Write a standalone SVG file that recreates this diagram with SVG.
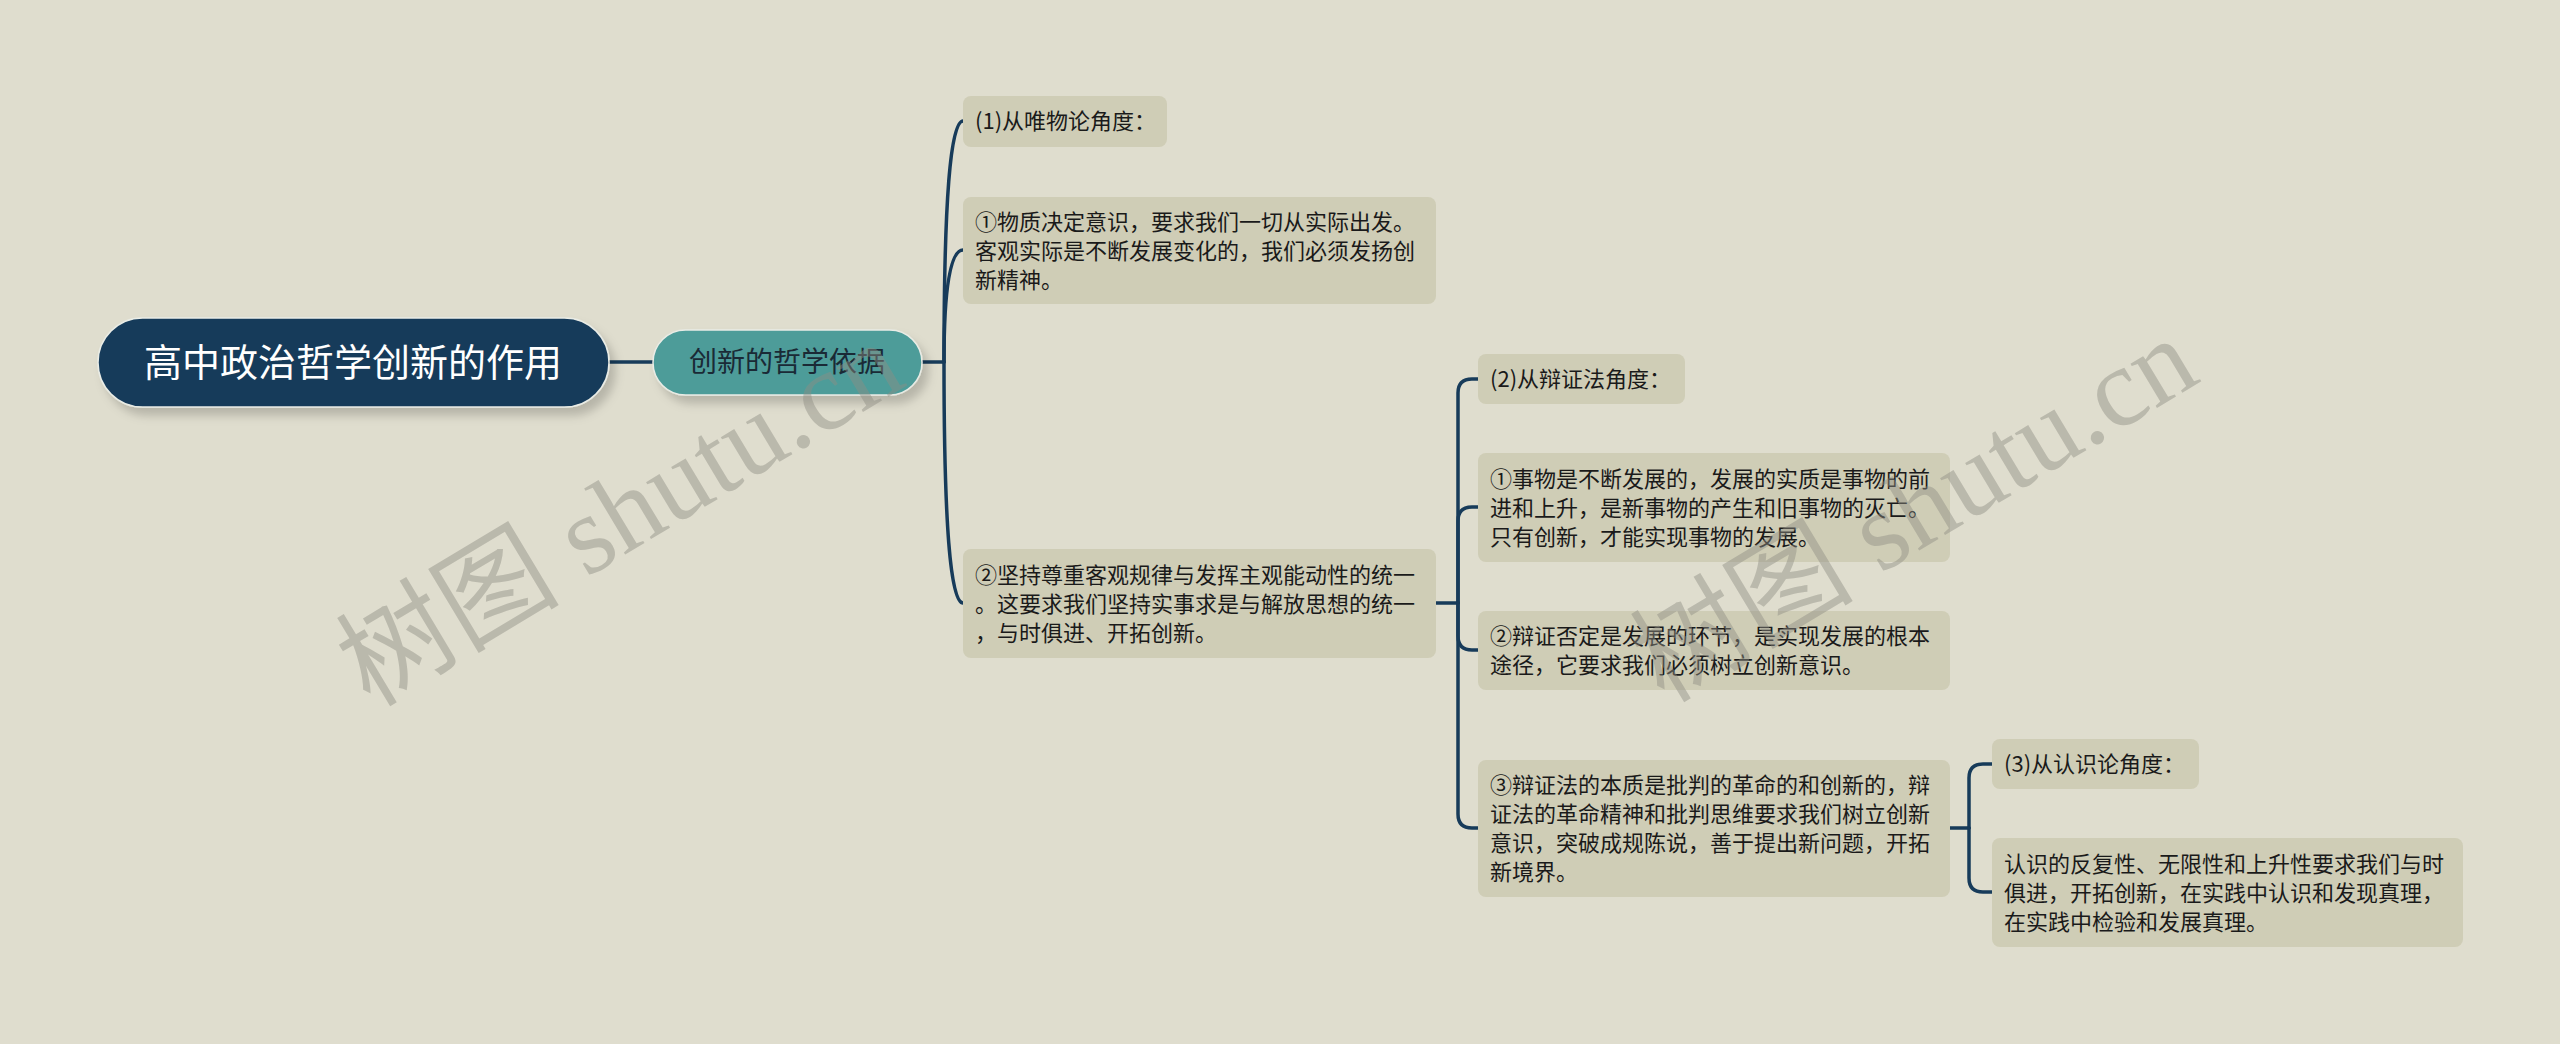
<svg xmlns="http://www.w3.org/2000/svg" width="2560" height="1044" viewBox="0 0 2560 1044">
<defs>
<style>
.bg{fill:#dfddce}
.box{fill:#cfcdb6}
.t{font-family:"Noto Sans CJK SC","Noto Sans",sans-serif;font-size:22px;fill:#1a1a1a}
.ln{fill:none;stroke:#173b5a;stroke-width:3.5;stroke-linecap:round}
.wm{font-family:"Liberation Serif","Noto Sans CJK SC",serif;font-size:112px;fill:#8f8e84;opacity:0.45}
</style>
<filter id="sh" x="-10%" y="-20%" width="130%" height="160%">
<feDropShadow dx="6" dy="8" stdDeviation="5" flood-color="#000" flood-opacity="0.18"/>
</filter>
</defs>
<rect class="bg" x="0" y="0" width="2560" height="1044"/>
<g id="connectors">
<path class="ln" d="M609 362H653"/>
<path class="ln" d="M922 362H944"/>
<path class="ln" d="M944 362Q944 121 963 121"/>
<path class="ln" d="M944 362Q944 250 963 250"/>
<path class="ln" d="M944 362Q944 603 963 603"/>
<path class="ln" d="M1436 603H1458"/>
<path class="ln" d="M1458 603V393Q1458 379 1472 379H1478"/>
<path class="ln" d="M1458 603V521Q1458 507 1472 507H1478"/>
<path class="ln" d="M1458 603V636Q1458 650 1472 650H1478"/>
<path class="ln" d="M1458 603V814Q1458 828 1472 828H1478"/>
<path class="ln" d="M1950 828H1969"/>
<path class="ln" d="M1969 828V778Q1969 764 1983 764H1992"/>
<path class="ln" d="M1969 828V878Q1969 892 1983 892H1992"/>
</g>
<g id="root">
<rect x="98" y="318" width="511" height="89" rx="44.5" fill="#173b5a" stroke="#e9ece6" stroke-width="1.5" filter="url(#sh)"/>
<text x="353" y="376" text-anchor="middle" font-family="Noto Sans CJK SC, sans-serif" font-size="38" fill="#ffffff">高中政治哲学创新的作用</text>
</g>
<g id="n-basis">
<rect x="653" y="330" width="269" height="65" rx="32.5" fill="#4e9c99" stroke="#e9ece6" stroke-width="1.5" filter="url(#sh)"/>
<text x="787" y="372" text-anchor="middle" font-family="Noto Sans CJK SC, sans-serif" font-size="28" fill="#1a2a36">创新的哲学依据</text>
</g>
<g id="n-1">
<rect class="box" x="963" y="96" width="204" height="51" rx="8"/>
<text class="t" x="975" y="129">(1)从唯物论角度：</text>
</g>
<g id="n-1a">
<rect class="box" x="963" y="197" width="473" height="107" rx="8"/>
<text class="t" x="975" y="230">①物质决定意识，要求我们一切从实际出发。</text>
<text class="t" x="975" y="259">客观实际是不断发展变化的，我们必须发扬创</text>
<text class="t" x="975" y="288">新精神。</text>
</g>
<g id="n-2">
<rect class="box" x="963" y="549" width="473" height="109" rx="8"/>
<text class="t" x="975" y="583">②坚持尊重客观规律与发挥主观能动性的统一</text>
<text class="t" x="975" y="612">。这要求我们坚持实事求是与解放思想的统一</text>
<text class="t" x="975" y="641">，与时俱进、开拓创新。</text>
</g>
<g id="n-2h">
<rect class="box" x="1478" y="354" width="207" height="50" rx="8"/>
<text class="t" x="1490" y="387">(2)从辩证法角度：</text>
</g>
<g id="n-2a">
<rect class="box" x="1478" y="453" width="472" height="109" rx="8"/>
<text class="t" x="1490" y="487">①事物是不断发展的，发展的实质是事物的前</text>
<text class="t" x="1490" y="516">进和上升，是新事物的产生和旧事物的灭亡。</text>
<text class="t" x="1490" y="545">只有创新，才能实现事物的发展。</text>
</g>
<g id="n-2b">
<rect class="box" x="1478" y="611" width="472" height="79" rx="8"/>
<text class="t" x="1490" y="644">②辩证否定是发展的环节，是实现发展的根本</text>
<text class="t" x="1490" y="673">途径，它要求我们必须树立创新意识。</text>
</g>
<g id="n-2c">
<rect class="box" x="1478" y="760" width="472" height="137" rx="8"/>
<text class="t" x="1490" y="793">③辩证法的本质是批判的革命的和创新的，辩</text>
<text class="t" x="1490" y="822">证法的革命精神和批判思维要求我们树立创新</text>
<text class="t" x="1490" y="851">意识，突破成规陈说，善于提出新问题，开拓</text>
<text class="t" x="1490" y="880">新境界。</text>
</g>
<g id="n-3h">
<rect class="box" x="1992" y="739" width="207" height="50" rx="8"/>
<text class="t" x="2004" y="772">(3)从认识论角度：</text>
</g>
<g id="n-3a">
<rect class="box" x="1992" y="838" width="471" height="109" rx="8"/>
<text class="t" x="2004" y="872">认识的反复性、无限性和上升性要求我们与时</text>
<text class="t" x="2004" y="901">俱进，开拓创新，在实践中认识和发现真理，</text>
<text class="t" x="2004" y="930">在实践中检验和发展真理。</text>
</g>
<g id="watermark">
<text class="wm" transform="translate(370 708) rotate(-31)">树图 shutu.cn</text>
<text class="wm" transform="translate(1664 704) rotate(-31)">树图 shutu.cn</text>
</g>
</svg>
